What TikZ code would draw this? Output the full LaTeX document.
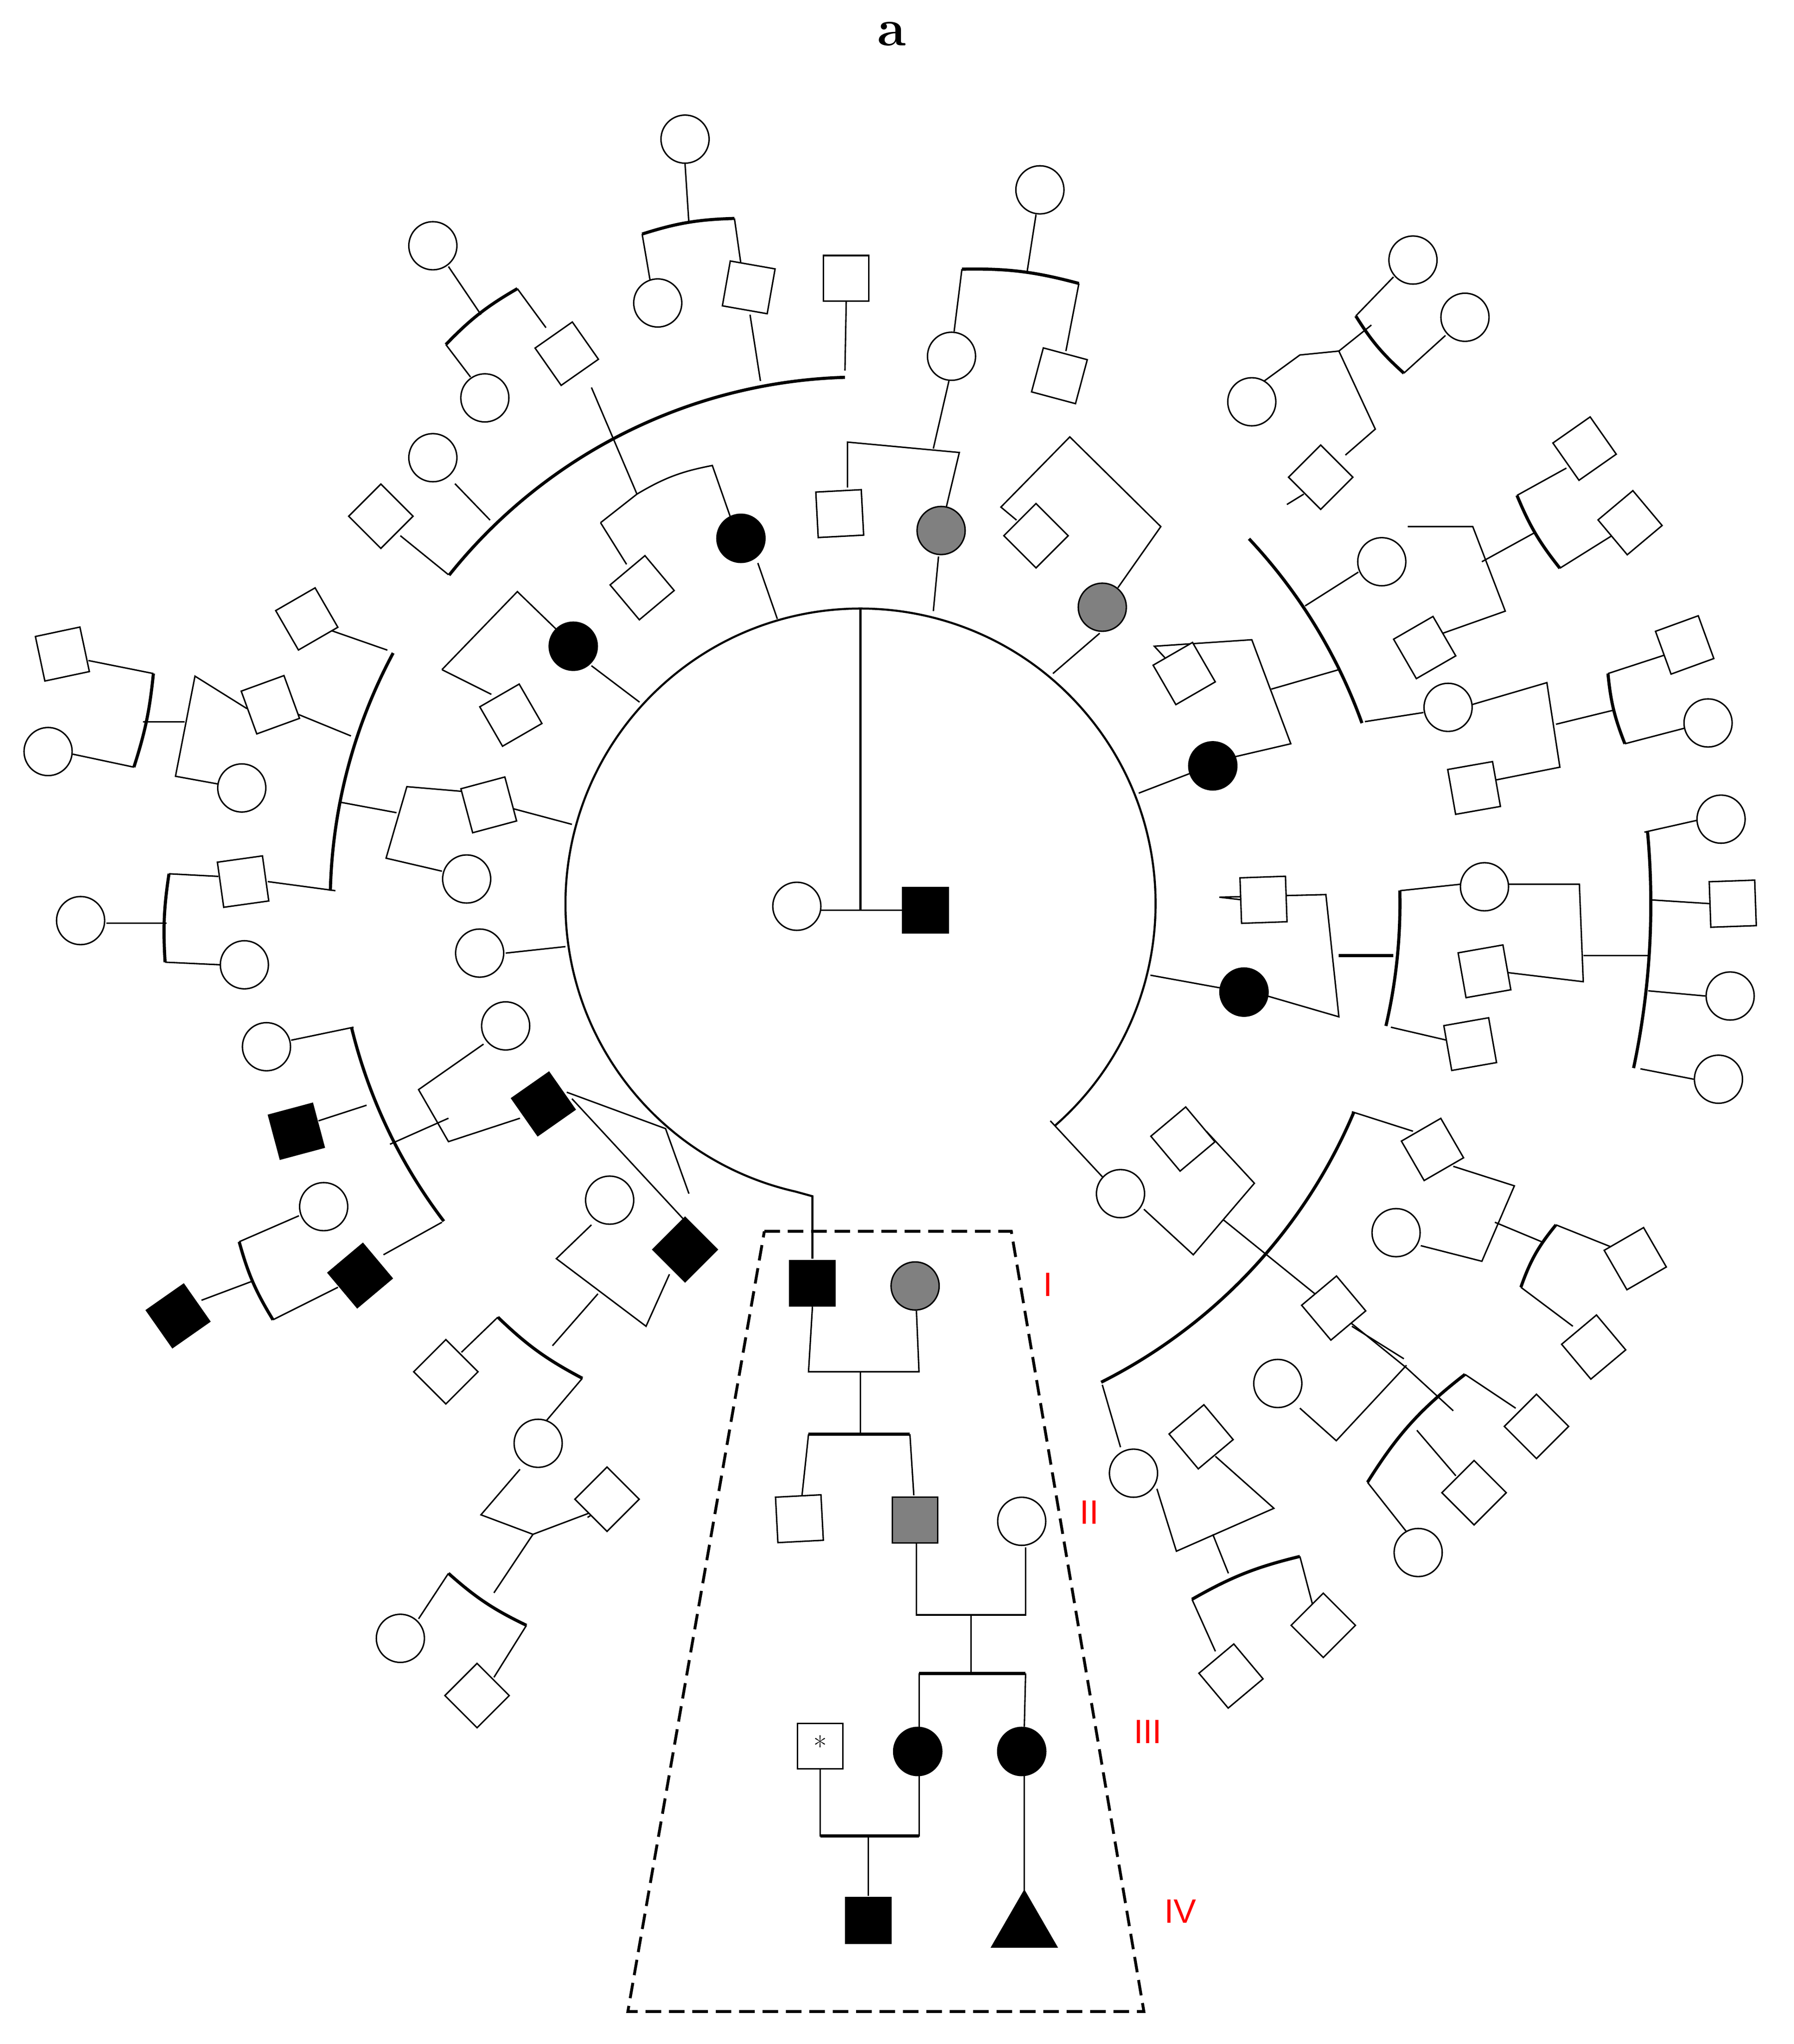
\documentclass[tikz,border=0pt]{standalone}
\usepackage{fontspec}
\newfontfamily\lsans{Liberation Sans}
\begin{document}
\begin{tikzpicture}[x=1pt,y=-1pt,line width=1.1pt,
 sym/.style={draw,line width=1.1pt,inner sep=0pt},
 oc/.style={sym,circle,minimum size=37pt,fill=white},
 fc/.style={sym,circle,minimum size=37pt,fill=black},
 gc/.style={sym,circle,minimum size=37pt,fill=gray},
 os/.style={sym,rectangle,minimum size=35pt,fill=white},
 fs/.style={sym,rectangle,minimum size=35pt,fill=black},
 gs/.style={sym,rectangle,minimum size=35pt,fill=gray},
 bold/.style={line width=2.4pt},
 gen/.style={text=red,font=\lsans\fontsize{26}{30}\selectfont}]
\useasboundingbox (0,0) rectangle (1380,1572);
\coordinate (C) at (662,695);
\newcommand\barc[3]{\draw[bold] ([shift={(C)}]#1:#3) arc[start angle=#1,end angle=#2,radius=#3];}
% ring
\draw[line width=1.6pt] ([shift={(C)}]48.8:227) arc[start angle=48.8,end angle=-257.2,radius=227] -- (625,920) -- (625,968);
\draw[line width=1.6pt] (662,468) -- (662,700);
\draw (628,700) -- (712,700);
\node[oc] (n0) at (613,697) {};
\node[fs] (n1) at (712,700) {};
% title
\node[font=\bfseries\fontsize{40}{46}\selectfont] (ttl) at (686,26) {a};

% ===== lines =====
% top-left group
\draw (598,476) -- (583,433);
\draw (462,402) -- (490,380) to[bend left=10] (548,358) -- (562,398);
\draw (462,402) -- (482,434);
\draw (490,380) -- (455,298);
\draw[bold] (343,265) to[bend left=8] (398,222);
\draw (343,265) -- (362,290); \draw (398,222) -- (420,252); \draw (370,242) -- (345,205);
\barc{218.6}{268.3}{405}
\draw (345,442) -- (308,412); \draw (377,400) -- (350,372);
\draw (585,293) -- (577,242); \draw (650,285) -- (651,232);
\draw[bold] (494,180) to[bend left=8] (565,168);
\draw (494,180) -- (500,215); \draw (565,168) -- (570,203); \draw (530,172) -- (527,126);
\draw (492,540) -- (455,512);
\draw (340,515) -- (398,455) -- (428,484);
\draw (340,515) -- (378,534);
% top center
\draw (718,470) -- (722,428);
\draw (652,375) -- (652,340) -- (738,348) -- (728,390);
\draw (718,345) -- (730,293);
\draw[bold] (740,207) to[bend left=8] (830,218);
\draw (740,207) -- (734,255); \draw (830,218) -- (820,270); \draw (790,210) -- (797,165);
\draw (810,518) -- (846,487);
\draw (782,400) -- (770,390) -- (823,336) -- (893,405) -- (860,452);
% right upper
\draw (876,610) -- (915,595);
\draw (900,510) -- (888,497) -- (963,492) -- (993,572) -- (950,582);
\draw (978,530) -- (1030,515);
\barc{-43.2}{-19.8}{410}
\draw (990,388) -- (1003,380);
\draw (1004,466) -- (1045,440);
\draw (1050,555) -- (1095,548);
\draw (1083,405) -- (1133,405) -- (1158,470) -- (1110,487);
\draw (1140,432) -- (1180,410);
\draw[bold] (1167,381) to[bend right=8] (1200,437);
\draw (1167,381) -- (1205,360); \draw (1200,437) -- (1240,412);
\draw (963,300) -- (1000,273) -- (1030,270) -- (1058,330) -- (1035,350);
\draw (1030,270) -- (1055,250);
\draw[bold] (1043,243) to[bend right=8] (1080,287);
\draw (1043,243) -- (1072,213); \draw (1080,287) -- (1112,258);
\draw (1132,542) -- (1190,525) -- (1200,590) -- (1150,600);
\draw (1197,557) -- (1242,546);
\draw[bold] (1237,518) to[bend right=8] (1250,572);
\draw (1237,518) -- (1283,503); \draw (1250,572) -- (1296,560);
% right
\draw (885,750) -- (940,760);
\draw (955,692) -- (938,690) -- (1020,688) -- (1030,782) -- (975,766);
\draw[bold] (1030,735) -- (1072,735);
\barc{-1.4}{13.1}{415}
\draw (1077,685) -- (1124,680); \draw (1070,790) -- (1113,800);
\draw (1160,680) -- (1215,680) -- (1218,755) -- (1160,748);
\draw (1218,735) -- (1268,735);
\barc{-5.2}{12}{608}
\draw (1265,640) -- (1305,631); \draw (1269,692) -- (1316,695);
\draw (1268,762) -- (1312,766); \draw (1262,822) -- (1303,830);
% bottom right
\draw (808,862) -- (848,905);
\draw (880,930) -- (918,965) -- (965,910) -- (928,870);
\draw (941,938) -- (1082,1052) -- (1118,1085);
\barc{22.9}{63.3}{412}
\draw (1040,855) -- (1087,870);
\draw (1093,958) -- (1140,970) -- (1165,912) -- (1118,897);
\draw (1150,940) -- (1186,955);
\draw[bold] (1170,990) to[bend left=10] (1197,942);
\draw (1197,942) -- (1242,960); \draw (1170,990) -- (1210,1020);
\draw (848,1065) -- (862,1113);
\draw (1000,1083) -- (1028,1108) -- (1082,1050);
\draw (1040,1020) -- (1080,1045);
\draw[bold] (1052,1140) to[bend left=10] (1127,1057);
\draw (1127,1057) -- (1166,1083); \draw (1052,1140) -- (1082,1178);
\draw (1090,1100) -- (1120,1135);
\draw (890,1145) -- (905,1193) -- (980,1160) -- (935,1120);
\draw (933,1180) -- (945,1210);
\draw[bold] (917,1230) to[bend left=8] (1000,1197);
\draw (917,1230) -- (935,1270); \draw (1000,1197) -- (1010,1235);
% left
\draw (440,634) -- (395,622);
\draw (360,609) -- (313,605) -- (297,660) -- (340,670);
\draw (305,625) -- (262,617);
\barc{181.4}{208.2}{408}
\draw (298,500) -- (255,485); \draw (270,566) -- (226,548); \draw (258,685) -- (206,678);
\draw (190,545) -- (150,520) -- (135,597) -- (168,603);
\draw (142,555) -- (110,555);
\draw[bold] (118,518) to[bend left=6] (103,590);
\draw (118,518) -- (68,508); \draw (103,590) -- (56,580);
\draw (168,674) -- (130,672);
\draw[bold] (130,672) to[bend right=6] (127,740);
\draw (127,740) -- (170,742); \draw (128,710) -- (82,710);
\draw (435,728) -- (389,733);
% left lower
\barc{142.7}{166.3}{403}
\draw (272,790) -- (224,800); \draw (282,850) -- (245,862); \draw (340,940) -- (295,965);
\draw (300,880) -- (345,860);
\draw (400,860) -- (345,878) -- (322,838) -- (372,803);
\draw (184,955) -- (230,935);
\draw[bold] (184,955) to[bend right=8] (210,1015);
\draw (210,1015) -- (260,990); \draw (195,985) -- (155,1000);
\draw (436,840) -- (512,868) -- (530,918);
\draw (440,845) -- (528,940);
\draw (455,942) -- (428,968) -- (497,1020) -- (515,980);
\draw (460,995) -- (425,1035);
\draw[bold] (383,1013) to[bend right=8] (448,1060);
\draw (383,1013) -- (355,1040); \draw (448,1060) -- (420,1093);
\draw (400,1130) -- (370,1165) -- (410,1180) -- (463,1160) -- (452,1167);
\draw (410,1180) -- (380,1225);
\draw[bold] (345,1210) to[bend right=8] (405,1250);
\draw (345,1210) -- (322,1245); \draw (405,1250) -- (380,1290);
% inner pedigree
\draw[line width=2.2pt,dash pattern=on 12pt off 6pt] (588,947) -- (778,947) -- (880,1547) -- (483,1547) -- cycle;
\draw (625,1005) -- (622,1055) -- (707,1055) -- (705,1008);
\draw (662,1055) -- (662,1102);
\draw[bold] (622,1103) -- (700,1103);
\draw (622,1103) -- (617,1150); \draw (700,1103) -- (703,1150);
\draw (705,1187) -- (705,1242) -- (789,1242) -- (789,1190);
\draw (747,1242) -- (747,1287);
\draw[bold] (707,1287) -- (789,1287);
\draw (707,1287) -- (707,1328); \draw (789,1287) -- (788,1328);
\draw (788,1366) -- (788,1455);
\draw (631,1361) -- (631,1412) -- (707,1412) -- (707,1366);
\draw[bold] (631,1412) -- (707,1412);
\draw (668,1412) -- (668,1458);

% ===== symbols =====
\foreach \p [count=\i] in {(527,107),(333,189),(506,233),(373,306),(333,352),(800,146),(732,274),(1087,200),(1127,244),(963,309),(1063,432),(1114,544),(1314,556),(1324,630),(1142,682),(1331,766),(1322,830),(862,918),(1074,948),(983,1064),(872,1133),(1091,1194),(37,578),(186,606),(62,708),(188,742),(359,676),(369,733),(205,805),(389,789),(249,928),(469,923),(414,1110),(308,1260),(786,1170)}
  \node[oc] (c\i) at \p {};
\foreach \p [count=\i] in {(570,414),(441,497),(933,589),(957,763),(706,1347),(786,1347)}
  \node[fc] (f\i) at \p {};
\foreach \p [count=\i] in {(724,408),(848,467),(704,989)}
  \node[gc] (g\i) at \p {};
\foreach \p/\r [count=\i] in {(651,214)/0,(576,221)/-10,(436,272)/35,(815,289)/-15,(293,397)/45,(494,452)/40,(646,395)/3,(797,412)/45,(393,550)/30,(911,518)/30,(1016,367)/45,(1219,345)/35,(1254,402)/40,(1096,498)/30,(1296,496)/20,(1134,606)/10,(972,692)/2,(1142,747)/10,(1131,803)/10,(1333,695)/2,(48,503)/12,(236,476)/30,(208,542)/20,(376,619)/15,(187,678)/8,(910,876)/40,(1102,884)/30,(1258,968)/30,(1226,1036)/40,(1026,1006)/40,(1182,1097)/45,(1134,1148)/45,(924,1105)/40,(1018,1250)/45,(947,1289)/40,(343,1055)/45,(467,1153)/45,(367,1304)/45,(615,1168)/3}
  \node[os,rotate=\r] (s\i) at \p {};
\foreach \p/\r [count=\i] in {(228,870)/15,(418,849)/35,(527,961)/45,(277,981)/40,(137,1012)/35,(625,987)/0,(668,1477)/0}
  \node[fs,rotate=\r] (b\i) at \p {};
\node[gs] (gsq) at (704,1169) {};
\node[os,font=\fontsize{22}{24}\selectfont] (star) at (631,1343) {*};
\coordinate (tri) at (788,1477);
\fill ([shift={(tri)}]0,-24) -- ([shift={(tri)}]26,21) -- ([shift={(tri)}]-26,21) -- cycle;
% generation labels
\node[gen] (l1) at (806,988) {I};
\node[gen] (l2) at (838,1163) {II};
\node[gen] (l3) at (883,1332) {III};
\node[gen] (l4) at (908,1470) {IV};
\end{tikzpicture}
\end{document}
